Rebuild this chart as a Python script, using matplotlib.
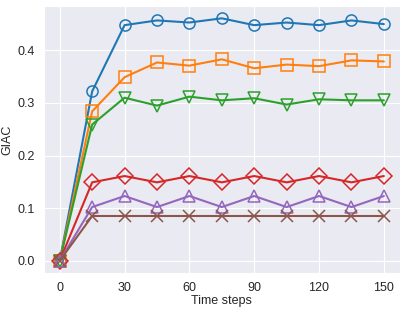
import numpy as np
import matplotlib.pyplot as plt
import seaborn as sns

sns.set_style("darkgrid")
plt.rcParams['font.family'] = ['Liberation Sans', 'DejaVu Sans']

steps = [0, 15, 30, 45, 60, 75, 90, 105, 120, 135, 150]
giac_circle = [0.0, 0.322, 0.448, 0.457, 0.453, 0.461, 0.448, 0.453, 0.448, 0.457, 0.450]
giac_square = [0.0, 0.284, 0.349, 0.377, 0.371, 0.383, 0.366, 0.373, 0.370, 0.381, 0.379]
giac_tri_down = [0.0, 0.259, 0.310, 0.295, 0.312, 0.305, 0.309, 0.297, 0.307, 0.305, 0.305]
giac_diamond = [0.0, 0.149, 0.161, 0.149, 0.161, 0.149, 0.161, 0.149, 0.161, 0.149, 0.161]
giac_tri_up = [0.0, 0.102, 0.123, 0.102, 0.123, 0.102, 0.123, 0.102, 0.123, 0.102, 0.123]
giac_cross = [0.0, 0.085, 0.085, 0.085, 0.085, 0.085, 0.085, 0.085, 0.085, 0.085, 0.085]

series = [giac_circle, giac_square, giac_tri_down, giac_diamond, giac_tri_up, giac_cross]
markers = ['o', 's', 'v', 'D', '^', 'x']
colors = ['#1f77b4', '#ff7f0e', '#2ca02c', '#d62728', '#9467bd', '#8c564b']

fig, ax = plt.subplots(figsize=(4.07, 3.10), dpi=100)
for vals, m, c in zip(series, markers, colors):
    ax.plot(steps, vals, color=c, marker=m, markersize=8, markerfacecolor='none',
            markeredgewidth=1.1, linewidth=1.5)

ax.set_xticks([0, 30, 60, 90, 120, 150])
ax.set_yticks([0.0, 0.1, 0.2, 0.3, 0.4])
ax.set_xlabel('Time steps', fontsize=9, labelpad=1)
ax.set_ylabel('GIAC', fontsize=9, labelpad=3)
ax.tick_params(labelsize=9, pad=3)

plt.subplots_adjust(left=0.107, right=0.983, top=0.98, bottom=0.12)
plt.savefig('out.png', dpi=100)
